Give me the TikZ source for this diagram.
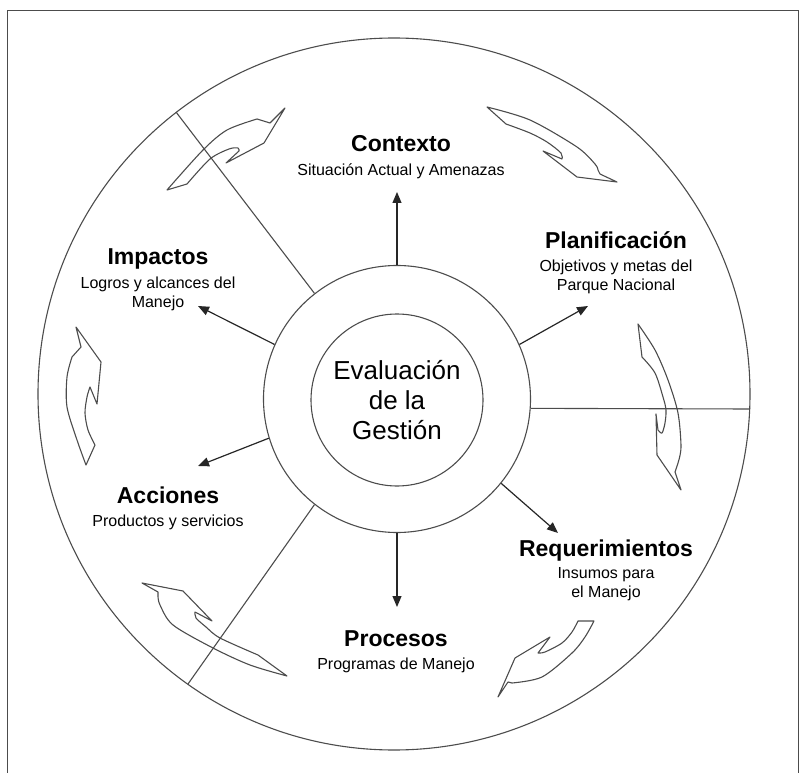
\documentclass[tikz,border=0pt]{standalone}
\usepackage{fontspec}
\setmainfont{Liberation Sans}
\usetikzlibrary{arrows.meta,positioning}

\begin{document}
\begin{tikzpicture}[x=1pt, y=-1pt,
  rim/.style={draw=black!70, line width=1.1pt},
  spoke/.style={-{Triangle[length=11pt,width=9pt]}, line width=1.2pt, draw=black!85},
  curl/.style={draw=black!70, line width=1.1pt, line join=round},
  head/.style={inner sep=0pt, anchor=base, text depth=5pt, font=\fontsize{23}{27}\selectfont\bfseries},
  sub/.style={inner sep=0pt, align=center, font=\fontsize{16}{19}\selectfont}
]
\useasboundingbox (0,0) rectangle (807,773);

% frame and wheel
\draw[rim, line width=1pt] (7,773) -- (7,11) -- (798,11) -- (798,773);
\draw[rim] (394,394) circle [radius=356pt];
\node[circle, rim, minimum size=267pt, inner sep=0pt] (ring) at (397,399) {};
\node[circle, rim, minimum size=172pt, inner sep=0pt, align=center,
  font=\fontsize{26}{30}\selectfont] (core) at (397,400) {Evaluación\\de la\\Gestión};

% dividers
\coordinate (cutA) at (176,112);
\coordinate (cutB) at (750,409);
\coordinate (cutC) at (188,684);
\draw[rim] (ring.128) -- (cutA);
\draw[rim] (ring.-4) -- (cutB);
\draw[rim] (ring.232) -- (cutC);

% labels
\node[head] (ctx) at (401,152) {Contexto};
\node[sub, below=6.5pt of ctx] (ctxsub) {Situación Actual y Amenazas};
\node[head] (plan) at (616,248) {Planificación};
\node[sub, below=6.5pt of plan] (plansub) {Objetivos y metas del\\Parque Nacional};
\node[head] (imp) at (158,265) {Impactos};
\node[sub, below=6.5pt of imp] (impsub) {Logros y alcances del\\Manejo};
\node[head] (acc) at (168,503) {Acciones};
\node[sub, below=6.5pt of acc] (accsub) {Productos y servicios};
\node[head] (req) at (606,556) {Requerimientos};
\node[sub, below=6.5pt of req] (reqsub) {Insumos para\\el Manejo};
\node[head] (proc) at (396,646) {Procesos};
\node[sub, below=6.5pt of proc] (procsub) {Programas de Manejo};

% spokes
\coordinate (ctxend) at (397,192);
\coordinate (planend) at (588,306);
\coordinate (impend) at (198,306);
\coordinate (accend) at (198,466);
\coordinate (reqend) at (558,533);
\coordinate (procend) at (397,607);
\draw[spoke] (ring.90) -- (ctxend);
\draw[spoke] (ring.24) -- (planend);
\draw[spoke] (ring.156) -- (impend);
\draw[spoke] (ring.197) -- (accend);
\draw[spoke] (ring.-39) -- (reqend);
\draw[spoke] (ring.270) -- (procend);

% curved block arrows, clockwise
\draw[curl] plot[smooth] coordinates {(167,190) (203,150) (227,130) (257,119)}
  -- (270,123) -- (285,108) -- (264,143) -- (226,163) -- (239,151)
  -- plot[smooth] coordinates {(239,151) (238,148) (229,149) (210,159) (187,184)} -- cycle;
\draw[curl] plot[smooth] coordinates {(487,107) (530,120) (577,147) (595,164) (598,170)}
  -- (600,174) -- (617,182) -- (577,177) -- (543,151) -- (562,159)
  -- plot[smooth] coordinates {(562,159) (561,153) (547,142) (530,133) (506,124)} -- cycle;
\draw[curl] plot[smooth] coordinates {(638,324) (655,350) (668,380) (678,413) (681,447) (678,463)}
  -- (675,472) -- (681,490) -- (657,455) -- (656,414) -- (658,430)
  -- plot[smooth] coordinates {(658,430) (662,433) (665,423) (666,410) (663,397) (655,373) (642,357)} -- cycle;
\draw[curl] plot[smooth] coordinates {(594,621) (585,637) (572,653) (542,677) (512,683)}
  -- (508,682) -- (498,697) -- (515,658) -- (550,637) -- (538,653)
  -- plot[smooth] coordinates {(538,653) (545,652) (562,643) (572,632) (578,621)} -- cycle;
\draw[curl] (142,583) -- (183,591) -- (212,621) -- (195,612)
  -- plot[smooth] coordinates {(195,612) (196,618) (206,627) (220,638) (258,655)}
  -- plot[smooth] coordinates {(287,676) (250,665) (213,648) (173,625) (160,605) (158,596)}
  -- (158,592) -- cycle;
\draw[curl] (76,327) -- (101,362) -- (97,404) -- (90,387)
  -- plot[smooth] coordinates {(90,387) (87,397) (85,413) (88,430) (95,445)}
  -- plot[smooth] coordinates {(86,465) (77,440) (67,407) (67,377) (72,357)}
  -- (81,347) -- cycle;
\end{tikzpicture}
\end{document}
